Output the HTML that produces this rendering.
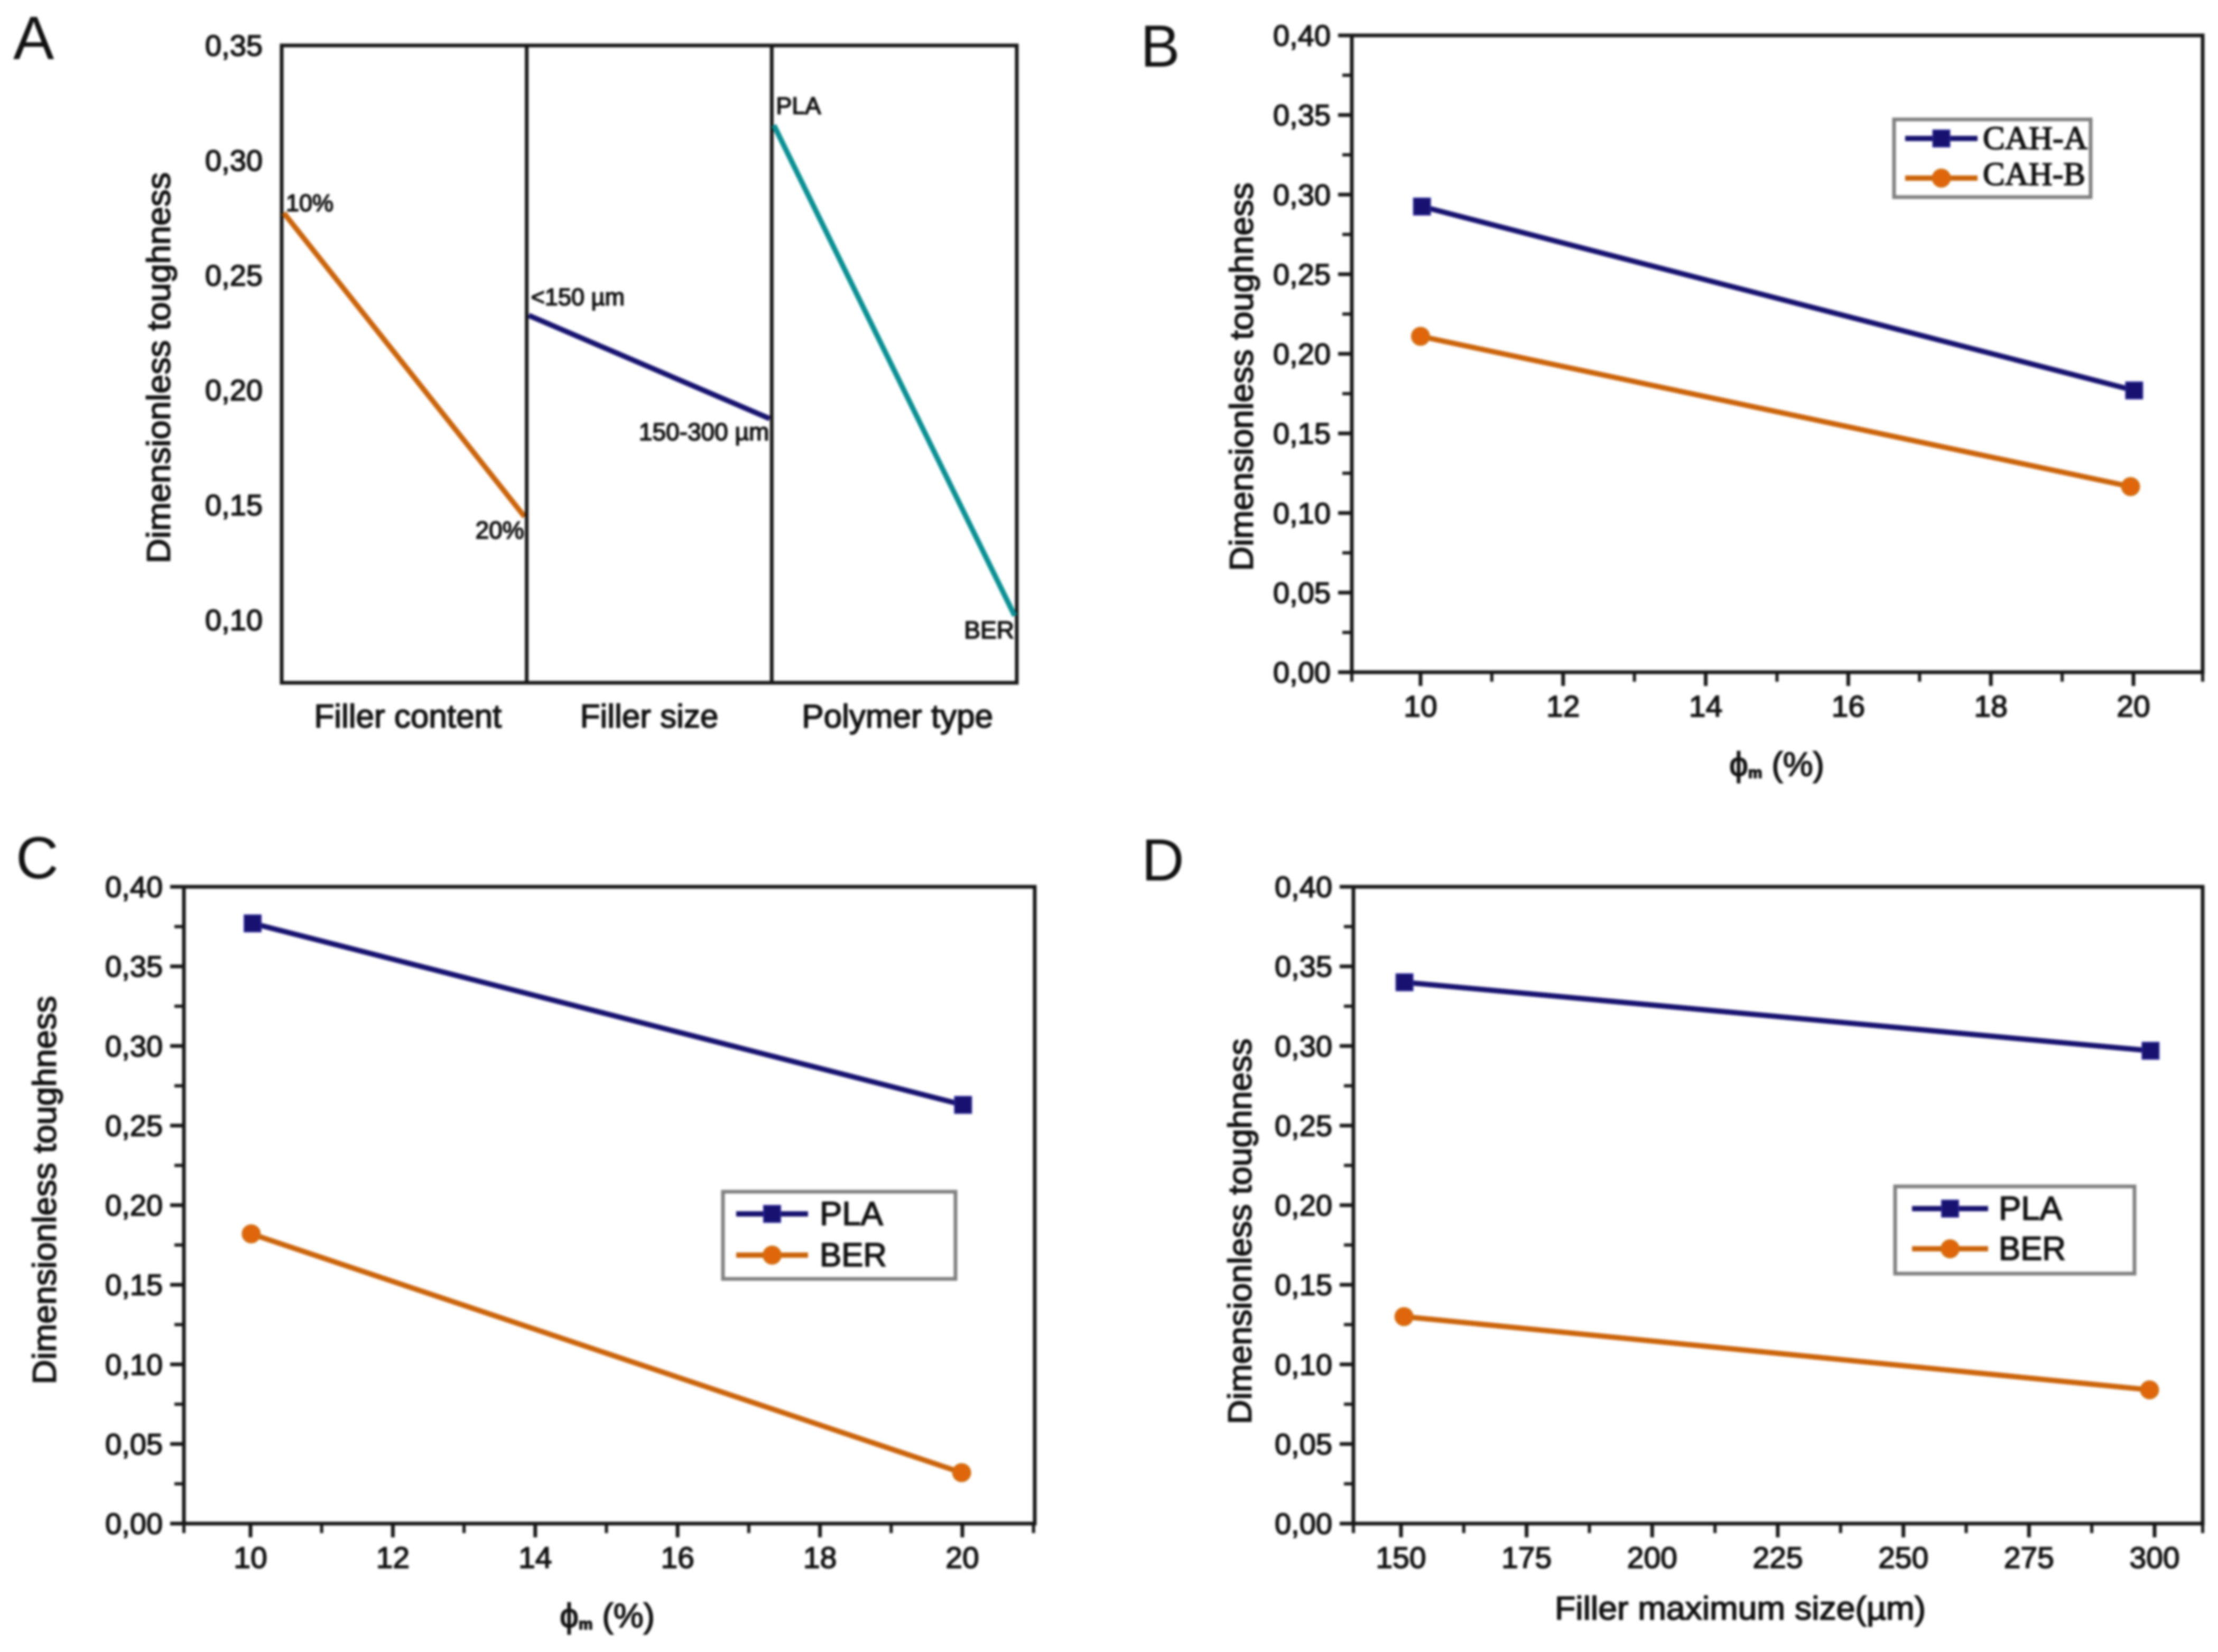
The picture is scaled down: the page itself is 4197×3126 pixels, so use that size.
<!DOCTYPE html>
<html lang="en">
<head>
<meta charset="utf-8">
<title>Dimensionless toughness charts</title>
<style>
html,body{margin:0;padding:0;background:#fff;width:4197px;height:3126px;overflow:hidden}
svg{display:block;filter:blur(2.2px)}
text{font-family:"Liberation Sans","DejaVu Sans",sans-serif;fill:#111;stroke:#111;stroke-width:1.8px}
</style>
</head>
<body>
<svg id="figure" xmlns="http://www.w3.org/2000/svg" width="4197" height="3126" viewBox="0 0 4197 3126">
<rect x="0" y="0" width="4197" height="3126" fill="#fff"/>
<text x="25" y="112" font-size="116" style="stroke-width:0">A</text>
<text x="2158" y="126" font-size="112" style="stroke-width:0">B</text>
<text x="30" y="1662" font-size="112" style="stroke-width:0">C</text>
<text x="2160" y="1666" font-size="112" style="stroke-width:0">D</text>
</svg>
<script>
// ---- Panel A data ----
const aCategories = ['Filler content', 'Filler size', 'Polymer type'];
const aLevelLabels = [['10%', '20%'], ['<150 µm', '150-300 µm'], ['PLA', 'BER']];
const aFillerContentValues = [0.2771, 0.1449];
const aFillerSizeValues = [0.2325, 0.1876];
const aPolymerTypeValues = [0.3153, 0.1018];
const aYTicks = [0.10, 0.15, 0.20, 0.25, 0.30, 0.35];
const aYTickLabels = ['0,10', '0,15', '0,20', '0,25', '0,30', '0,35'];

// ---- Shared y axis for B, C, D ----
const yMajorTicks = [0, 0.05, 0.10, 0.15, 0.20, 0.25, 0.30, 0.35, 0.40];
const yMajorLabels = ['0,00', '0,05', '0,10', '0,15', '0,20', '0,25', '0,30', '0,35', '0,40'];
const yMinorTicks = [0.025, 0.075, 0.125, 0.175, 0.225, 0.275, 0.325, 0.375];

// ---- Panel B data ----
const bXTicks = [10, 12, 14, 16, 18, 20];
const bXMinorTicks = [9, 11, 13, 15, 17, 19, 21];
const bXLabels = ['10', '12', '14', '16', '18', '20'];
const bSeriesNames = ['CAH-A', 'CAH-B'];
const bCahAX = [10.02, 20.01];
const bCahAY = [0.2925, 0.177];
const bCahBX = [10, 19.96];
const bCahBY = [0.211, 0.1166];

// ---- Panel C data ----
const cXTicks = [10, 12, 14, 16, 18, 20];
const cXMinorTicks = [9, 11, 13, 15, 17, 19, 21];
const cXLabels = ['10', '12', '14', '16', '18', '20'];
const cSeriesNames = ['PLA', 'BER'];
const cPlaX = [10.03, 20.01];
const cPlaY = [0.377, 0.263];
const cBerX = [10.01, 19.99];
const cBerY = [0.182, 0.032];

// ---- Panel D data ----
const dXTicks = [150, 175, 200, 225, 250, 275, 300];
const dXMinorTicks = [137.5, 162.5, 187.5, 212.5, 237.5, 262.5, 287.5, 312.5];
const dXLabels = ['150', '175', '200', '225', '250', '275', '300'];
const dSeriesNames = ['PLA', 'BER'];
const dPlaX = [150.7, 299.2];
const dPlaY = [0.340, 0.297];
const dBerX = [150.6, 299];
const dBerY = [0.130, 0.084];

const NS = 'http://www.w3.org/2000/svg';
const NAVY = '#17126f';
const ORANGE = '#cb640a';
const MARK_ORANGE = '#e0660c';
const TEAL = '#0a9093';
const INK = '#161616';
const root = document.getElementById('figure');

function add(parent, tag, attrs, content) {
  const el = document.createElementNS(NS, tag);
  for (const k in attrs) el.setAttribute(k, attrs[k]);
  if (content !== undefined) el.textContent = content;
  parent.appendChild(el);
  return el;
}
function group(name) {
  const g = add(root, 'g', {});
  
  
  return g;
}
function label(parent, name, x, y, str, size, anchor, extra) {
  const t = add(parent, 'text', Object.assign({x: x, y: y, 'font-size': size, 'text-anchor': anchor, 'dominant-baseline': 'central'}, extra || {}), str);
  
  
  return t;
}
function seg(parent, name, x1, y1, x2, y2, color, width) {
  const l = add(parent, 'line', {x1: x1, y1: y1, x2: x2, y2: y2, stroke: color, 'stroke-width': width});
  
  
  return l;
}
function frameRect(parent, x, y, w, h) {
  const r = add(parent, 'rect', {x: x, y: y, width: w, height: h, fill: 'none', stroke: INK, 'stroke-width': 7});
  
  
}
function yTitle(parent, cx, cy, len) {
  const t = add(parent, 'text', {x: cx, y: cy, 'font-size': 62, 'text-anchor': 'middle', 'dominant-baseline': 'central', textLength: len, lengthAdjust: 'spacingAndGlyphs', transform: 'rotate(-90 ' + cx + ' ' + cy + ')'}, 'Dimensionless toughness');
  
  
}
function marker(parent, name, kind, x, y) {
  let m;
  if (kind === 'square') {
    m = add(parent, 'rect', {x: x - 16, y: y - 16, width: 32, height: 32, fill: NAVY, stroke: '#2f2a9c', 'stroke-width': 2});
  } else {
    m = add(parent, 'circle', {cx: x, cy: y, r: 17, fill: MARK_ORANGE, stroke: '#c9700f', 'stroke-width': 2});
  }
  
  
}

// ---------- Panel A: main effects plot ----------
(function () {
  const g = group('panel-a-main-effects');
  const L = 533, R = 1924, T = 86, B = 1292;
  const yA = v => T + (0.35 - v) / 0.05 * 217.4;
  const w = (R - L) / aCategories.length;
  const series = [aFillerContentValues, aFillerSizeValues, aPolymerTypeValues];
  const colors = [ORANGE, NAVY, TEAL];
  const firstLabelOffset = [-19, -35, -37];
  const lastLabelOffset = [25, 25, 27];
  const categoryNudge = [7, 0, 6];
  const xA = (f, lvl) => L + f * w + (lvl === 0 ? 4 : w - 4);
  frameRect(g, L, T, R - L, B - T);
  aYTicks.forEach((v, i) => {
    label(g, 'y-tick-label', 497, yA(v), aYTickLabels[i], 56, 'end');
  });
  aCategories.forEach((c, f) => {
    if (f > 0) seg(g, 'factor-divider', L + f * w, T, L + f * w, B, INK, 7);
    const vals = series[f];
    seg(g, 'effect-line-' + f, xA(f, 0), yA(vals[0]), xA(f, 1), yA(vals[1]), colors[f], 10);
    label(g, 'level-label', xA(f, 0) + 4, yA(vals[0]) + firstLabelOffset[f], aLevelLabels[f][0], 45, 'start');
    label(g, 'level-label', xA(f, 1) - 1, yA(vals[1]) + lastLabelOffset[f], aLevelLabels[f][1], 46, 'end');
    label(g, 'x-category-label', L + f * w + w / 2 + categoryNudge[f], 1356, c, 62, 'middle');
  });
  yTitle(g, 301, 696, 740);
})();

// ---------- Panels B, C, D: line charts ----------
function linePanel(name, box, xScaleAnchors, xTicks, xMinor, xLabels, series, titleBox, legend) {
  const g = group(name);
  const y = v => box.B - v / 0.40 * (box.B - box.T);
  const a = xScaleAnchors;
  const x = v => a.px0 + (v - a.v0) * (a.px1 - a.px0) / (a.v1 - a.v0);
  const clampX = px => Math.min(box.R, Math.max(box.L, px));
  yMajorTicks.forEach((v, i) => {
    seg(g, 'y-major-tick', box.L - 26, y(v), box.L, y(v), INK, 7);
    label(g, 'y-tick-label', box.L - 40, y(v), yMajorLabels[i], 56, 'end');
  });
  yMinorTicks.forEach(v => {
    seg(g, 'y-minor-tick', box.L - 18, y(v), box.L, y(v), INK, 6);
  });
  xTicks.forEach((v, i) => {
    seg(g, 'x-major-tick', x(v), box.B, x(v), box.B + 26, INK, 7);
    label(g, 'x-tick-label', x(v), box.B + 65, xLabels[i], 57, 'middle');
  });
  xMinor.forEach(v => {
    seg(g, 'x-minor-tick', clampX(x(v)), box.B, clampX(x(v)), box.B + 18, INK, 6);
  });
  frameRect(g, box.L, box.T, box.R - box.L, box.B - box.T);
  yTitle(g, titleBox.yCx, titleBox.yCy, titleBox.yLen);
  if (titleBox.phi) {
    const t = add(g, 'text', {x: titleBox.xCx, y: titleBox.xCy, 'font-size': 64, 'text-anchor': 'middle', 'dominant-baseline': 'central'});
    
    
    add(t, 'tspan', {}, 'ϕ');
    add(t, 'tspan', {'font-size': 30, dy: 16, 'font-weight': 'bold'}, 'm');
    add(t, 'tspan', {dy: -16}, ' (%)');
  } else {
    label(g, 'x-axis-title', titleBox.xCx, titleBox.xCy, titleBox.text, 62, 'middle', {textLength: titleBox.xLen, lengthAdjust: 'spacingAndGlyphs'});
  }
  series.forEach((s, k) => {
    const pts = s.xs.map((v, i) => [x(v), y(s.ys[i])]);
    pts.slice(1).forEach((p, i) => {
      seg(g, s.name + '-line', pts[i][0], pts[i][1], p[0], p[1], s.color, 10);
    });
    pts.forEach(p => marker(g, s.name + '-point', s.kind, p[0], p[1]));
  });
  const lg = add(g, 'g', {});
  
  
  const lb = add(lg, 'rect', {x: legend.x, y: legend.y, width: legend.w, height: legend.h, fill: '#fff', stroke: '#808080', 'stroke-width': 7});
  
  
  series.forEach((s, k) => {
    const ry = legend.rows[k];
    seg(lg, 'legend-line-' + s.name, legend.lineX1, ry, legend.lineX2, ry, s.color, 10);
    marker(lg, 'legend-marker-' + s.name, s.kind, (legend.lineX1 + legend.lineX2) / 2, ry);
    const extra = {textLength: legend.textLens[k], lengthAdjust: 'spacingAndGlyphs'};
    if (legend.serif) extra['style'] = 'font-family:"Liberation Serif",serif';
    label(lg, 'legend-entry-' + s.name, legend.textX, legend.textRows[k], s.name, legend.size, 'start', extra);
  });
}

linePanel('panel-b-cah-type',
  {L: 2558, R: 4168, T: 67, B: 1272},
  {v0: 10, px0: 2688, v1: 20, px1: 4037},
  bXTicks, bXMinorTicks, bXLabels,
  [{name: bSeriesNames[0], xs: bCahAX, ys: bCahAY, color: NAVY, kind: 'square'},
   {name: bSeriesNames[1], xs: bCahBX, ys: bCahBY, color: ORANGE, kind: 'circle'}],
  {yCx: 2350, yCy: 713, yLen: 735, phi: true, xCx: 3362, xCy: 1446},
  {x: 3584, y: 226, w: 372, h: 147, rows: [262, 337], textRows: [262, 330], lineX1: 3605, lineX2: 3742, textX: 3752, textLens: [198, 194], size: 62, serif: true});

linePanel('panel-c-polymer-vs-content',
  {L: 348, R: 1958, T: 1678, B: 2883},
  {v0: 10, px0: 474, v1: 20, px1: 1821},
  cXTicks, cXMinorTicks, cXLabels,
  [{name: cSeriesNames[0], xs: cPlaX, ys: cPlaY, color: NAVY, kind: 'square'},
   {name: cSeriesNames[1], xs: cBerX, ys: cBerY, color: ORANGE, kind: 'circle'}],
  {yCx: 85, yCy: 2252, yLen: 735, phi: true, xCx: 1149, xCy: 3057},
  {x: 1368, y: 2255, w: 440, h: 165, rows: [2297, 2375], textRows: [2297, 2375], lineX1: 1393, lineX2: 1529, textX: 1551, textLens: [120, 127], size: 63, serif: false});

linePanel('panel-d-polymer-vs-size',
  {L: 2561, R: 4168, T: 1678, B: 2883},
  {v0: 150, px0: 2651, v1: 300, px1: 4077},
  dXTicks, dXMinorTicks, dXLabels,
  [{name: dSeriesNames[0], xs: dPlaX, ys: dPlaY, color: NAVY, kind: 'square'},
   {name: dSeriesNames[1], xs: dBerX, ys: dBerY, color: ORANGE, kind: 'circle'}],
  {yCx: 2347, yCy: 2330, yLen: 730, phi: false, xCx: 3293, xCy: 3044, xLen: 702, text: 'Filler maximum size(µm)'},
  {x: 3586, y: 2245, w: 453, h: 165, rows: [2287, 2363], textRows: [2287, 2363], lineX1: 3618, lineX2: 3762, textX: 3782, textLens: [120, 127], size: 63, serif: false});
</script>
</body>
</html>
